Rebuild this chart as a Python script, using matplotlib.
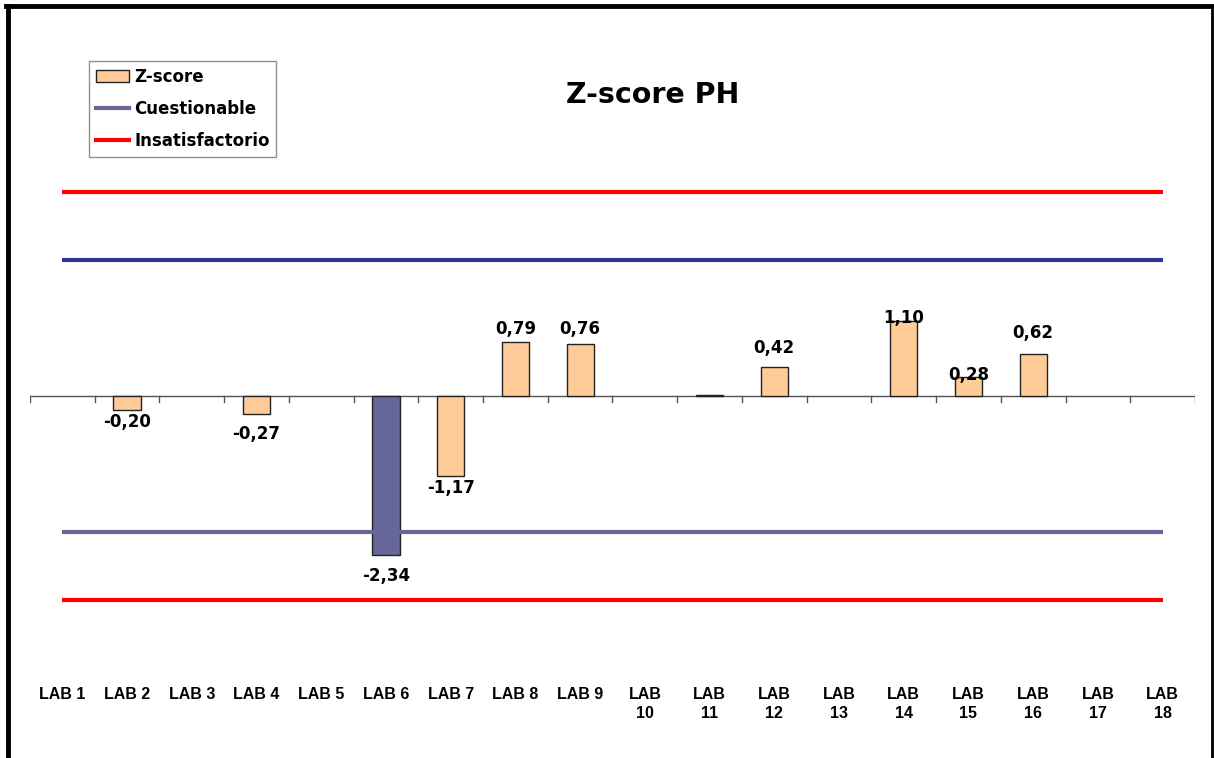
import matplotlib.pyplot as plt
from matplotlib.patches import Patch
from matplotlib.lines import Line2D
import matplotlib.transforms as mtransforms
import numpy as np

labs = ['LAB 1', 'LAB 2', 'LAB 3', 'LAB 4', 'LAB 5', 'LAB 6', 'LAB 7', 'LAB 8', 'LAB 9',
        'LAB\n10', 'LAB\n11', 'LAB\n12', 'LAB\n13', 'LAB\n14', 'LAB\n15', 'LAB\n16', 'LAB\n17', 'LAB\n18']
zscore = [np.nan, -0.20, np.nan, -0.27, np.nan, -2.34, -1.17, 0.79, 0.76,
          np.nan, 0.01, 0.42, np.nan, 1.10, 0.28, 0.62, np.nan, np.nan]
show_label = [False, True, False, True, False, True, True, True, True,
              False, False, True, False, True, True, True, False, False]
cuest_hi, cuest_lo = 2, -2
insat_hi, insat_lo = 3, -3

# label offsets (pixels from bar end) to mimic excel placement
lab_off = [0, 12, 0, 20, 0, 21, 12, 13, 15, 0, 0, 19, 0, 3, 2, 21, 0, 0]

W, H = 1214, 758
fig = plt.figure(figsize=(W / 100, H / 100), dpi=100)
ax = fig.add_axes([30 / W, 1 - 634 / H, 1165 / W, 476 / H])

n = len(labs)
x = np.arange(n)
for i, v in enumerate(zscore):
    if np.isnan(v):
        continue
    col = '#666699' if abs(v) >= 2 else '#FFCC99'
    ax.bar(i, v, width=0.42, color=col, edgecolor='#222222', linewidth=1, zorder=2)

ax.plot(x, [insat_hi] * n, color='#FF0000', lw=3, solid_capstyle='butt', zorder=3)
ax.plot(x, [insat_lo] * n, color='#FF0000', lw=3, solid_capstyle='butt', zorder=3)
ax.plot(x, [cuest_hi] * n, color='#333399', lw=3, solid_capstyle='butt', zorder=3)
ax.plot(x, [cuest_lo] * n, color='#666699', lw=3, solid_capstyle='butt', zorder=3)

for i, v in enumerate(zscore):
    if not show_label[i]:
        continue
    sign = 1 if v >= 0 else -1
    ax.annotate(('%.2f' % v).replace('.', ','), (i, v), xytext=(0, sign * lab_off[i]),
                textcoords='offset pixels', ha='center', va='center',
                fontsize=12, fontweight='bold', family='DejaVu Sans', zorder=4)

ax.set_xlim(-0.5, n - 0.5)
ax.set_ylim(-3.5, 3.5)
for s in ['top', 'right', 'left', 'bottom']:
    ax.spines[s].set_visible(False)
ax.axhline(0, color='#555555', lw=1, zorder=1)
ax.set_xticks([])
ax.set_yticks([])
# category separators as small tick marks below the axis
for b in np.arange(-0.5, n, 1.0):
    ax.plot([b, b], [0, -0.09], color='#555555', lw=1, zorder=1)

trans = mtransforms.blended_transform_factory(ax.transData, fig.transFigure)
for i, lab in enumerate(labs):
    ax.text(i, 1 - 687 / H, lab, transform=trans, ha='center', va='top',
            fontsize=11.5, fontweight='bold', family='Liberation Sans', linespacing=1.3)

fig.text(653 / W, 1 - 95 / H, 'Z-score PH', ha='center', va='center',
         fontsize=20.5, fontweight='bold', family='DejaVu Sans')

handles = [Patch(facecolor='#FFCC99', edgecolor='#222222', label='Z-score'),
           Line2D([], [], color='#666699', lw=3, label='Cuestionable'),
           Line2D([], [], color='#FF0000', lw=3, label='Insatisfactorio')]
leg = fig.legend(handles=handles, loc='upper left', bbox_to_anchor=(89 / W, 1 - 61 / H),
                 frameon=True, fancybox=False, handlelength=2.0, handletextpad=0.3,
                 borderpad=0.4, labelspacing=0.85, borderaxespad=0,
                 prop={'family': 'DejaVu Sans', 'weight': 'bold', 'size': 12})
leg.get_frame().set_edgecolor('#777777')
leg.get_frame().set_linewidth(1)

# outer frame
fig.add_artist(Line2D([8 / W, 8 / W], [0, 1 - 6 / H], color='black', lw=3.5, transform=fig.transFigure))
fig.add_artist(Line2D([6 / W, 1213 / W], [1 - 6 / H, 1 - 6 / H], color='black', lw=3.5, transform=fig.transFigure))
fig.add_artist(Line2D([1212 / W, 1212 / W], [0, 1 - 6 / H], color='black', lw=2, transform=fig.transFigure))

fig.savefig('out.png', dpi=100)
